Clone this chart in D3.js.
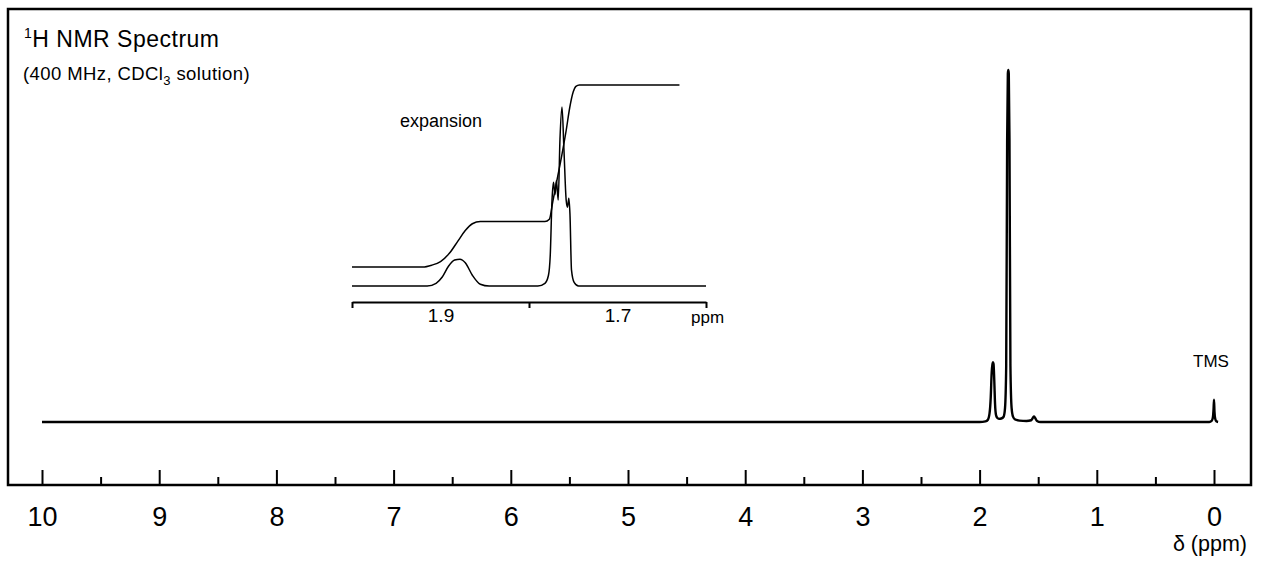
<!DOCTYPE html>
<html>
<head>
<meta charset="utf-8">
<script src="https://cdn.jsdelivr.net/npm/d3@7"></script>
<style>
  html, body { margin: 0; padding: 0; background: #fff; }
  svg { display: block; }
  text { font-family: "Liberation Sans", Arial, Helvetica, sans-serif; fill: #000; }
</style>
</head>
<body>
<svg id="chart" width="1267" height="562"></svg>
<script>
// ---- Data ----
// Main spectrum: chemical shift (ppm) and relative intensity (0-100)
const mainPpm = [10.0, 2.0, 1.95, 1.93, 1.915, 1.905, 1.897, 1.89, 1.886, 1.881, 1.875, 1.868, 1.86, 1.85, 1.835, 1.815, 1.795, 1.783, 1.773, 1.765, 1.759, 1.755, 1.751, 1.745, 1.737, 1.727, 1.715, 1.70, 1.66, 1.60, 1.56, 1.545, 1.535, 1.525, 1.51, 1.48, 0.04, 0.02, 0.01, 0.004, 0.0, -0.004, -0.01, -0.02, -0.035];
const mainIntensity = [0, 0, 0.2, 0.6, 2.5, 7, 14, 16.5, 17, 16.5, 12, 5, 2, 1.2, 0.9, 1.0, 1.5, 4, 16, 80, 99, 100, 99, 80, 16, 4, 1.5, 0.8, 0.4, 0.3, 0.5, 1.2, 1.6, 1.1, 0.3, 0, 0, 0.3, 1.2, 3.5, 6.3, 3.0, 1.0, 0.2, 0];

// Inset (expansion): spectrum trace
const insetPpm = [2.0, 1.915, 1.905, 1.898, 1.891, 1.884, 1.878, 1.872, 1.864, 1.855, 1.845, 1.79, 1.782, 1.778, 1.776, 1.774, 1.7723, 1.7706, 1.769, 1.767, 1.765, 1.7627, 1.7605, 1.758, 1.7565, 1.755, 1.7537, 1.752, 1.749, 1.744, 1.6];
const insetIntensity = [0, 0, 1.5, 5, 11, 14.5, 15, 13, 6, 1, 0, 0, 1.5, 6, 17, 48, 58, 51, 59, 48, 82, 100, 76, 48, 44, 49, 40, 9, 2, 0, 0];

// Inset: integral trace (relative integral units)
const integralPpm = [2.0, 1.92, 1.91, 1.9, 1.89, 1.88, 1.872, 1.864, 1.855, 1.84, 1.782, 1.777, 1.773, 1.768, 1.763, 1.758, 1.754, 1.75, 1.747, 1.743, 1.63];
const integralValue = [0, 0, 0.04, 0.12, 0.3, 0.58, 0.8, 0.95, 1.0, 1.0, 1.0, 1.05, 1.45, 1.95, 2.45, 3.0, 3.5, 3.85, 3.97, 4.0, 4.0];

// Axis ticks and labels
const majorTicks = [10, 9, 8, 7, 6, 5, 4, 3, 2, 1, 0];
const minorTicks = [9.5, 8.5, 7.5, 6.5, 5.5, 4.5, 3.5, 2.5, 1.5, 0.5];
const insetTicks = [2.0, 1.8, 1.6];
const insetLabels = [1.9, 1.7];

// ---- Drawing ----
const svg = d3.select("#chart");

// Frame
const frame = { left: 8, top: 9, right: 1251, bottom: 485 };
svg.append("rect")
  .attr("x", frame.left).attr("y", frame.top)
  .attr("width", frame.right - frame.left).attr("height", frame.bottom - frame.top)
  .attr("fill", "none").attr("stroke", "#000").attr("stroke-width", 2.5);

// Main scales
const x = d3.scaleLinear().domain([10, 0]).range([42, 1214]);
const y = d3.scaleLinear().domain([0, 100]).range([422, 70]);

// Main axis (ticks pointing up from the frame bottom)
const majorAxis = d3.axisTop(x).tickValues(majorTicks).tickSize(15).tickFormat("");
const minorAxis = d3.axisTop(x).tickValues(minorTicks).tickSize(8).tickFormat("");
const gMaj = svg.append("g").attr("transform", `translate(0,${frame.bottom})`).call(majorAxis);
const gMin = svg.append("g").attr("transform", `translate(0,${frame.bottom})`).call(minorAxis);
[gMaj, gMin].forEach(g => {
  g.select(".domain").remove();
  g.selectAll(".tick line").attr("stroke", "#000").attr("stroke-width", 2);
});
// Major tick labels
const labelAxis = d3.axisBottom(x).tickValues(majorTicks).tickSize(0).tickPadding(0).tickFormat(d3.format("d"));
const gLab = svg.append("g").attr("transform", `translate(0,${frame.bottom})`).call(labelAxis);
gLab.select(".domain").remove();
gLab.selectAll(".tick text")
  .attr("dy", null).attr("y", 41)
  .style("font-family", '"Liberation Sans", Arial, sans-serif')
  .style("font-size", "27px").attr("fill", "#000");

svg.append("text").attr("x", 1247).attr("y", 551).attr("text-anchor", "end")
  .style("font-size", "21.5px").text("δ (ppm)");

// Main spectrum line
const mainData = mainPpm.map((p, i) => [p, mainIntensity[i]]);
svg.append("path")
  .datum(mainData)
  .attr("fill", "none").attr("stroke", "#000").attr("stroke-width", 2.4)
  .attr("stroke-linejoin", "round")
  .attr("d", d3.line().x(d => x(d[0])).y(d => y(d[1])).curve(d3.curveMonotoneX));

// TMS label
svg.append("text").attr("x", x(0) - 3).attr("y", 367).attr("text-anchor", "middle")
  .style("font-size", "17px").text("TMS");

// Title
const title = svg.append("text").attr("x", 24).attr("y", 47)
  .style("font-size", "23px").style("letter-spacing", "0.5px");
title.append("tspan").style("font-size", "14px").attr("dy", -9).text("1");
title.append("tspan").attr("dy", 9).text("H NMR Spectrum");

const sub = svg.append("text").attr("x", 23).attr("y", 80)
  .style("font-size", "18.5px").style("letter-spacing", "0.4px");
sub.append("tspan").text("(400 MHz, CDCl");
sub.append("tspan").style("font-size", "13px").attr("dy", 5).text("3");
sub.append("tspan").attr("dy", -5).text(" solution)");

// ---- Inset ----
const xi = d3.scaleLinear().domain([2.0, 1.6]).range([352, 706]);
const yi = d3.scaleLinear().domain([0, 100]).range([286, 107]);
const yInt = d3.scaleLinear().domain([0, 4]).range([267, 85]);

const insetData = insetPpm.map((p, i) => [p, insetIntensity[i]]);
svg.append("path")
  .datum(insetData)
  .attr("fill", "none").attr("stroke", "#000").attr("stroke-width", 1.5)
  .attr("stroke-linejoin", "round")
  .attr("d", d3.line().x(d => xi(d[0])).y(d => yi(d[1])).curve(d3.curveMonotoneX));

const integralData = integralPpm.map((p, i) => [p, integralValue[i]]);
svg.append("path")
  .datum(integralData)
  .attr("fill", "none").attr("stroke", "#000").attr("stroke-width", 1.5)
  .attr("stroke-linejoin", "round")
  .attr("d", d3.line().x(d => xi(d[0])).y(d => yInt(d[1])).curve(d3.curveMonotoneX));

// Inset axis
const insetAxis = d3.axisBottom(xi).tickValues(insetTicks).tickSize(6).tickSizeOuter(0).tickFormat("");
const gIn = svg.append("g").attr("transform", "translate(0,302)").call(insetAxis);
gIn.select(".domain").attr("stroke", "#000").attr("stroke-width", 1.8);
gIn.selectAll(".tick line").attr("stroke", "#000").attr("stroke-width", 2);

const insetLabelAxis = d3.axisBottom(xi).tickValues(insetLabels).tickSize(0).tickPadding(0).tickFormat(d3.format(".1f"));
const gInL = svg.append("g").attr("transform", "translate(0,302)").call(insetLabelAxis);
gInL.select(".domain").remove();
gInL.selectAll(".tick text")
  .attr("dy", null).attr("y", 20)
  .style("font-family", '"Liberation Sans", Arial, sans-serif')
  .style("font-size", "19px").attr("fill", "#000");

svg.append("text").attr("x", 691).attr("y", 323)
  .style("font-size", "17px").text("ppm");

svg.append("text").attr("x", 400).attr("y", 127)
  .style("font-size", "18px").text("expansion");
</script>
</body>
</html>
